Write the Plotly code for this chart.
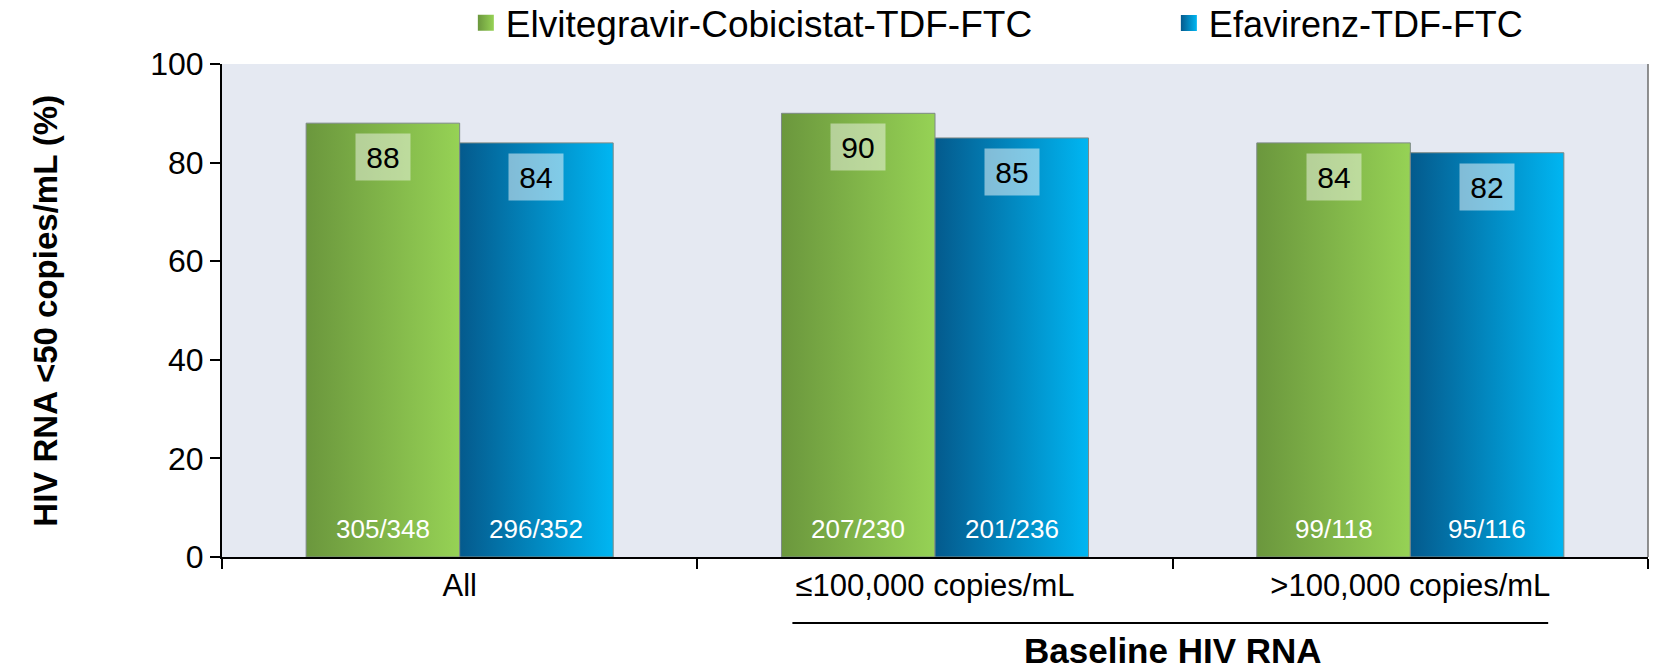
import plotly.graph_objects as go

# --- datos ---
categories = ["All", "≤100,000 copies/mL", ">100,000 copies/mL"]
series_names = ["Elvitegravir-Cobicistat-TDF-FTC", "Efavirenz-TDF-FTC"]
evg_values = [88, 90, 84]
efv_values = [84, 85, 82]
evg_counts = ["305/348", "207/230", "99/118"]
efv_counts = ["296/352", "201/236", "95/116"]

FONT = "Liberation Sans, Arial, sans-serif"
HALF = 0.323  # ancho de cada barra en unidades de categoria

styles = [
    dict(scale=[[0, "#6b973d"], [1, "#96d255"]], box="rgba(255,255,255,0.45)",
         values=evg_values, counts=evg_counts, side=-1, legend="legend", lx=0.171, lsize=37),
    dict(scale=[[0, "#045a8d"], [1, "#00b6f2"]], box="rgba(255,255,255,0.5)",
         values=efv_values, counts=efv_counts, side=1, legend="legend2", lx=0.664, lsize=36),
]

fig = go.Figure()
annotations = []

for s_idx, st in enumerate(styles):
    for i, v in enumerate(st["values"]):
        x0 = i if st["side"] > 0 else i - HALF
        x1 = x0 + HALF
        fig.add_trace(go.Scatter(
            x=[x0, x1, x1, x0, x0], y=[0, 0, v, v, 0],
            mode="lines", fill="toself",
            fillgradient=dict(type="horizontal", colorscale=st["scale"]),
            line=dict(color="#7d8a86", width=1),
            showlegend=False, hoverinfo="skip",
        ))
        xc = (x0 + x1) / 2
        # valor en caja
        annotations.append(dict(
            x=xc, y=v, xref="x", yref="y", text=str(v), showarrow=False,
            yanchor="top", yshift=-10, width=52, height=44,
            bgcolor=st["box"], font=dict(family=FONT, size=30, color="black"),
        ))
        # n/N en la base
        annotations.append(dict(
            x=xc, y=0, xref="x", yref="y", text=st["counts"][i], showarrow=False,
            yanchor="bottom", yshift=11,
            font=dict(family=FONT, size=26, color="white"),
        ))
    # entrada de leyenda
    fig.add_trace(go.Scatter(
        x=[None], y=[None], mode="markers", name=series_names[s_idx],
        legend=st["legend"],
        marker=dict(symbol="square", size=22, color=st["scale"][0][1],
                    gradient=dict(type="horizontal", color=st["scale"][1][1]),
                    line=dict(width=0)),
    ))

# titulo eje y
annotations.append(dict(
    x=-0.124, y=0.5, xref="paper", yref="paper", text="<b>HIV RNA <50 copies/mL (%)</b>",
    textangle=-90, showarrow=False, xanchor="center", yanchor="middle",
    font=dict(family=FONT, size=33, color="black"),
))
# titulo del grupo
annotations.append(dict(
    x=1.5, y=-0.19, xref="x", yref="paper", text="<b>Baseline HIV RNA</b>",
    showarrow=False, xanchor="center", yanchor="middle",
    font=dict(family=FONT, size=35, color="black"),
))

shapes = [
    dict(type="line", xref="x", yref="paper", x0=0.70, x1=2.29, y0=-0.134, y1=-0.134,
         line=dict(color="black", width=2)),
    dict(type="line", xref="paper", yref="paper", x0=1, x1=1, y0=0, y1=1,
         line=dict(color="#6d6d6d", width=1.5)),
]

legend_style = dict(orientation="h", y=1.083, xanchor="left", yanchor="middle",
                    bgcolor="rgba(0,0,0,0)")

fig.update_layout(
    width=1653, height=671,
    margin=dict(l=222, r=5, t=64, b=114, autoexpand=False),
    paper_bgcolor="white", plot_bgcolor="#e5e9f2",
    font=dict(family=FONT, color="black"),
    showlegend=True,
    legend=dict(x=styles[0]["lx"], font=dict(family=FONT, size=styles[0]["lsize"], color="black"),
                **legend_style),
    legend2=dict(x=styles[1]["lx"], font=dict(family=FONT, size=styles[1]["lsize"], color="black"),
                 **legend_style),
    xaxis=dict(range=[-0.5, 2.5], tickvals=[0, 1, 2], ticktext=categories,
               ticks="", showgrid=False, zeroline=False, showline=True,
               linecolor="black", linewidth=2,
               tickfont=dict(family=FONT, size=31, color="black"),
               minor=dict(tickvals=[-0.5, 0.5, 1.5, 2.5], ticks="outside", ticklen=10,
                          tickcolor="black", tickwidth=1.5, showgrid=False)),
    yaxis=dict(range=[0, 100], tickvals=[0, 20, 40, 60, 80, 100], ticks="outside",
               ticklen=10, tickcolor="black", tickwidth=1.5, showgrid=False,
               zeroline=False, showline=True, linecolor="black", linewidth=2,
               tickfont=dict(family=FONT, size=32, color="black")),
    annotations=annotations,
    shapes=shapes,
)

# quitar el margen por defecto del body para que la figura ocupe toda la ventana
fig.write_html("out.html", config={"displayModeBar": False},
               post_script="document.body.style.margin='0';")
